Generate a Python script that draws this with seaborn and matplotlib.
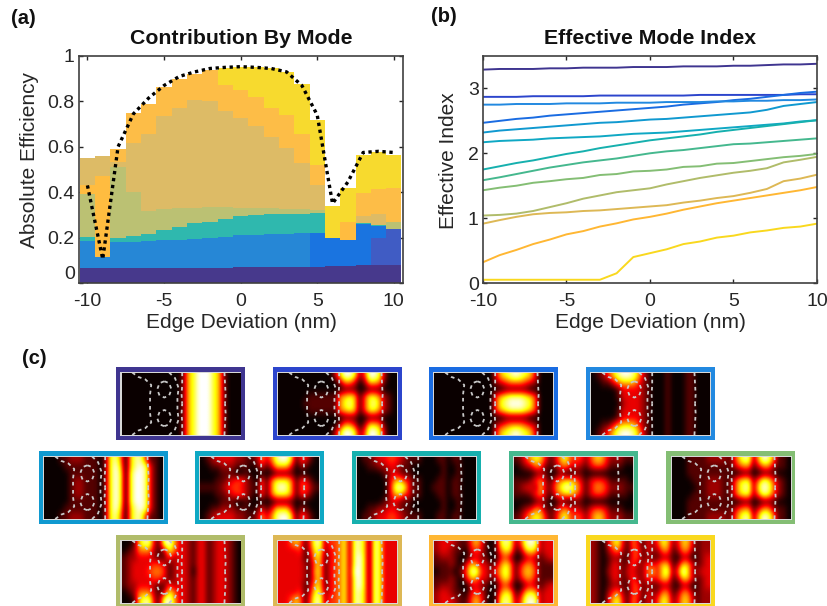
import numpy as np
import pandas as pd
import matplotlib
matplotlib.use("Agg")
import matplotlib.pyplot as plt
from matplotlib.patches import Rectangle
import seaborn as sns

# panel (a) - layer heights per edge deviation, bottom to top
edge = list(range(-10, 11))
navy = [.066, .068, .068, .068, .068, .068, .068, .068, .068, .068, .07, .07, .07, .07, .07, .072, .075, .075, .08, .08, .08]
indigo = [0] * 19 + [.12, .16]
bright = [0] * 15 + [.148, .125, .115, .18, .05, 0]
blue = [.119, .047, .112, .112, .117, .122, .122, .127, .13, .135, .14, .143, .145, .148, .15, 0, 0, 0, 0, 0, 0]
teal = [.018, 0, .02, .025, .03, .045, .055, .07, .072, .08, .085, .087, .09, .087, .085, .09, 0, 0, .005, .005, 0]
olive = [.187, 0, .31, .195, .1, .09, .085, .065, .065, .05, .035, .03, .025, .02, .02, .01, 0, 0, 0, 0, .03]
orange_low = [.04, .355, 0, 0, 0, 0, 0, 0, 0, 0, 0, 0, 0, 0, 0, 0, 0, .08, 0, 0, 0]
tan = [.12, .09, .025, .215, .34, .41, .44, .475, .465, .425, .395, .36, .315, .27, .205, .11, 0, 0, .03, .05, 0]
orange = [0, 0, .055, .132, .135, .13, .13, .115, .138, .115, .125, .13, .125, .145, .125, .09, 0, 0, .1, .11, .15]
yellow = [0, 0, 0, 0, 0, 0, 0, 0, 0, .075, .1, .13, .175, .19, .22, .2, .14, .15, .17, .16, .145]
total = [.43, .105, .6, .745, .815, .87, .91, .93, .945, .95, .953, .95, .945, .93, .87, .74, .35, .445, .575, .58, .575]

layer_names = ["navy", "indigo", "bright", "blue", "teal", "olive", "orange_low", "tan", "orange", "yellow"]
layer_values = [navy, indigo, bright, blue, teal, olive, orange_low, tan, orange, yellow]
layer_colors = ["#47398C", "#405CC4", "#1A74E0", "#2687D6", "#2FB8AE", "#BBC173", "#FFBC40", "#DDBB66", "#FDBD47", "#F7DA2E"]

# panel (b) - effective index per mode
mode_1 = [3.29, 3.30, 3.30, 3.30, 3.31, 3.31, 3.32, 3.32, 3.32, 3.33, 3.33, 3.33, 3.34, 3.34, 3.34, 3.35, 3.35, 3.36, 3.37, 3.37, 3.38]
mode_2 = [2.87, 2.87, 2.87, 2.88, 2.88, 2.88, 2.88, 2.89, 2.89, 2.89, 2.89, 2.89, 2.89, 2.90, 2.90, 2.90, 2.90, 2.90, 2.90, 2.91, 2.91]
mode_3 = [2.47, 2.50, 2.53, 2.55, 2.58, 2.60, 2.62, 2.64, 2.66, 2.68, 2.70, 2.72, 2.75, 2.77, 2.79, 2.82, 2.84, 2.87, 2.90, 2.93, 2.95]
mode_4 = [2.75, 2.75, 2.76, 2.76, 2.76, 2.77, 2.77, 2.77, 2.78, 2.78, 2.78, 2.79, 2.79, 2.79, 2.80, 2.80, 2.81, 2.81, 2.82, 2.82, 2.83]
mode_5 = [2.32, 2.35, 2.37, 2.39, 2.41, 2.43, 2.45, 2.47, 2.48, 2.50, 2.52, 2.53, 2.55, 2.57, 2.59, 2.61, 2.63, 2.67, 2.73, 2.76, 2.79]
mode_6 = [2.17, 2.19, 2.20, 2.21, 2.23, 2.24, 2.25, 2.26, 2.28, 2.30, 2.31, 2.32, 2.34, 2.36, 2.38, 2.40, 2.42, 2.44, 2.46, 2.49, 2.51]
mode_7 = [1.75, 1.80, 1.85, 1.89, 1.94, 1.99, 2.03, 2.08, 2.12, 2.16, 2.20, 2.23, 2.26, 2.29, 2.33, 2.36, 2.39, 2.42, 2.45, 2.48, 2.51]
mode_8 = [1.585, 1.63, 1.68, 1.73, 1.78, 1.82, 1.86, 1.89, 1.92, 1.96, 2.00, 2.03, 2.05, 2.08, 2.11, 2.14, 2.15, 2.17, 2.19, 2.21, 2.23]
mode_9 = [1.43, 1.47, 1.50, 1.545, 1.57, 1.60, 1.62, 1.665, 1.68, 1.72, 1.73, 1.75, 1.79, 1.80, 1.84, 1.85, 1.88, 1.91, 1.94, 1.96, 1.99]
mode_10 = [1.04, 1.05, 1.07, 1.11, 1.17, 1.23, 1.30, 1.35, 1.40, 1.43, 1.46, 1.52, 1.57, 1.62, 1.66, 1.70, 1.73, 1.77, 1.86, 1.90, 1.945]
mode_11 = [.915, .97, 1.02, 1.06, 1.08, 1.09, 1.11, 1.12, 1.14, 1.16, 1.18, 1.20, 1.24, 1.27, 1.31, 1.34, 1.39, 1.45, 1.57, 1.61, 1.67]
mode_12 = [.32, .43, .51, .60, .67, .75, .80, .87, .92, .98, 1.02, 1.07, 1.13, 1.18, 1.23, 1.27, 1.31, 1.35, 1.39, 1.43, 1.48]
mode_13 = [.05, .05, .05, .05, .05, .05, .05, .05, .15, .40, .46, .52, .60, .64, .70, .73, .78, .81, .85, .87, .915]
mode_values = [mode_1, mode_2, mode_3, mode_4, mode_5, mode_6, mode_7, mode_8, mode_9, mode_10, mode_11, mode_12, mode_13]
mode_colors = ["#3F3590", "#2C45CC", "#1A6CE2", "#2289E0", "#1099D0", "#0FA8C4", "#16B0AE", "#45B88E", "#84BE74", "#B0BC6A", "#DDB855", "#FFB733", "#F9D81E"]

# panel (c) - field brightness (0-9), rows from top edge to the middle, the lower half mirrors it
field_1 = ["000000000000267999762000"] * 5
field_2 = ["000000000002699724997200", "000000000000255302665100", "000000000000011100111000", "000000111111567614775210", "000001111111578614786210"]
field_3 = ["000000000000367898763000", "000000000000234555432000", "000000000000001111100000", "000000000000467888764000", "000000000000478999874000"]
field_4 = ["012468998631000100011000", "001135666421000100011000", "000001333321000100011000", "000001333321000100011000", "000000233321000100011000"]
field_5 = ["000112221110278506884110", "000011111110279606898310", "000001111110279707998310", "000001221110279707998310", "000001221110279707998310"]
field_6 = ["012333322112535899614310", "001122211101313666302100", "000011100100000111100000", "000112344210415777514310", "111123443211415898514421"]
field_7 = ["011233443211100011011000", "001122332110000001001000", "000001232110000001001000", "000000256431100011011000", "000000279831100111011000"]
field_8 = ["124676313674442466422211", "012354112453321344311100", "000012100200110000000000", "111245214566531344311110", "123326225798641355422211"]
field_9 = ["000111122221368826985110", "000111111111245513552110", "000111111111001100111000", "000011122211367725874210", "000001122211368827985210"]
field_10 = ["001688318963321331233210", "012555212753321331233210", "122333211423321331233210", "123333443123321331233210", "123334554123320331233210"]
field_11 = ["334651488244572886187333", "333341377234572886187333", "333331266134572896187333", "333332156134572896187333", "333332166134572996187333"]
field_12 = ["233321146410178724898233", "233211034310157612676233", "122210023210034200232123", "111210365331257513553111", "011102489432468514664111"]
field_13 = ["210367315313247623663122", "210245214413225512552122", "210122114412112210220123", "210133124224346612663123", "210233133225637824972233"]
fields = [field_1, field_2, field_3, field_4, field_5, field_6, field_7, field_8, field_9, field_10, field_11, field_12, field_13]

# outer left edge of each frame in pixels, and the top of its row
frame_left = [116, 273, 429, 586, 39, 195, 352, 509, 666, 116, 273, 429, 586]
frame_top = [367, 367, 367, 367, 451, 451, 451, 451, 451, 535, 535, 535, 535]

# dashed device outline, upper half only, in image fractions
curve_x = [.09, .14, .20, .25, .24, .24]
curve_y = [0, .07, .11, .20, .35, .50]
circle_x = [.36, .40, .42, .40, .36, .32, .30, .32, .36]
circle_y = [.14, .17, .27, .37, .40, .37, .27, .17, .14]
inner_x = [.40, .45, .48, .47, .47]
inner_y = [0, .09, .25, .40, .50]
edge_x = [.51, .51, .505, .51]
edge_y = [0, .2, .35, .50]
right_x = [.865, .87, .875, .87]
right_y = [0, .18, .35, .50]

W, H = 828, 606
sns.set_theme(style="ticks")
plt.rcParams["font.family"] = ["Liberation Sans", "DejaVu Sans"]
plt.rcParams["axes.unicode_minus"] = False
plt.rcParams["text.color"] = "#111111"
plt.rcParams["axes.labelcolor"] = "#262626"
plt.rcParams["xtick.color"] = "#262626"
plt.rcParams["ytick.color"] = "#262626"

fig = plt.figure(figsize=(W / 100, H / 100), dpi=100)


def px_axes(left, top, right, bottom):
    return fig.add_axes([left / W, 1 - bottom / H, (right - left) / W, (bottom - top) / H])


def style_axes(ax):
    ax.tick_params(direction="in", length=3, width=1, top=True, right=True, labelsize=14, pad=3)
    ax.tick_params(axis="x", pad=7)
    for s in ax.spines.values():
        s.set_visible(True)
        s.set_color("#404040")
        s.set_linewidth(1.2)


# (a) stacked contributions
rows = []
for name, vals in zip(layer_names, layer_values):
    for e, v in zip(edge, vals):
        rows.append({"edge": e, "layer": name, "height": v})
df_a = pd.DataFrame(rows)

ax = px_axes(79, 56, 403, 283)
sns.histplot(data=df_a, x="edge", weights="height", hue="layer", hue_order=layer_names[::-1], multiple="stack",
             discrete=True, palette=dict(zip(layer_names, layer_colors)), alpha=1, linewidth=0, legend=False, ax=ax)
sns.lineplot(x=edge, y=total, color="black", linewidth=2.4, linestyle=(0, (1, 1.1)), ax=ax)
ax.set_xlim(-10.55, 10.6)
ax.set_ylim(0, 1)
ax.set_xticks([-10, -5, 0, 5, 10])
ax.set_yticks([0, .2, .4, .6, .8, 1])
ax.set_yticklabels(["0", "0.2", "0.4", "0.6", "0.8", "1"])
ax.set_xlabel("Edge Deviation (nm)", fontsize=15, labelpad=2)
ax.set_ylabel("Absolute Efficiency", fontsize=15)
ax.yaxis.set_label_coords(-.124, .54)
ax.set_title("Contribution By Mode", fontsize=15.3, fontweight="bold", pad=9)
style_axes(ax)
ax.get_yticklabels()[0].set_va("bottom")

# (b) effective index lines
rows = []
for i, vals in enumerate(mode_values):
    for e, v in zip(edge, vals):
        rows.append({"edge": e, "mode": i, "index": v})
df_b = pd.DataFrame(rows)

ax = px_axes(483, 56, 817, 283)
sns.lineplot(data=df_b, x="edge", y="index", hue="mode", palette=mode_colors, linewidth=1.4, legend=False, ax=ax)
ax.set_xlim(-10, 10)
ax.set_ylim(0, 3.5)
ax.set_xticks([-10, -5, 0, 5, 10])
ax.set_yticks([0, 1, 2, 3])
ax.set_xlabel("Edge Deviation (nm)", fontsize=15, labelpad=2)
ax.set_ylabel("Effective Index", fontsize=15)
ax.yaxis.set_label_coords(-.075, .54)
ax.set_title("Effective Mode Index", fontsize=15.3, fontweight="bold", pad=9)
style_axes(ax)

# (c) mode profiles
for field, left, top, color in zip(fields, frame_left, frame_top, mode_colors):
    fig.add_artist(Rectangle((left / W, 1 - (top + 73) / H), 129 / W, 73 / H, transform=fig.transFigure, fc=color, ec="none", zorder=-2))
    fig.add_artist(Rectangle(((left + 4.5) / W, 1 - (top + 69) / H), 121 / W, 64.5 / H, transform=fig.transFigure, fc="#d8d8d8", ec="none", zorder=-1))
    half = [[int(c) / 9 for c in row] for row in field]
    grid = np.array(half + half[-2::-1])
    ax = px_axes(left + 5.5, top + 5.5, left + 124.5, top + 68)
    ax.imshow(grid, cmap="hot", vmin=0, vmax=1, aspect="auto", interpolation="bicubic", extent=(0, 1, 1, 0))
    for xs, ys in [(curve_x, curve_y), (circle_x, circle_y), (inner_x, inner_y), (edge_x, edge_y), (right_x, right_y)]:
        for flip_y in (ys, [1 - y for y in ys]):
            ax.plot(xs, flip_y, color="#c8c8c8", lw=1.3, ls=(0, (2, 2)))
    ax.set_xlim(0, 1)
    ax.set_ylim(1, 0)
    ax.set_xticks([])
    ax.set_yticks([])
    for s in ax.spines.values():
        s.set_visible(False)

fig.text(11 / W, 1 - 19 / H, "(a)", fontsize=14.5, fontweight="bold", va="center")
fig.text(431 / W, 1 - 17 / H, "(b)", fontsize=14.5, fontweight="bold", va="center")
fig.text(22 / W, 1 - 358 / H, "(c)", fontsize=14.5, fontweight="bold", va="center")

fig.savefig("out.png", dpi=100)
